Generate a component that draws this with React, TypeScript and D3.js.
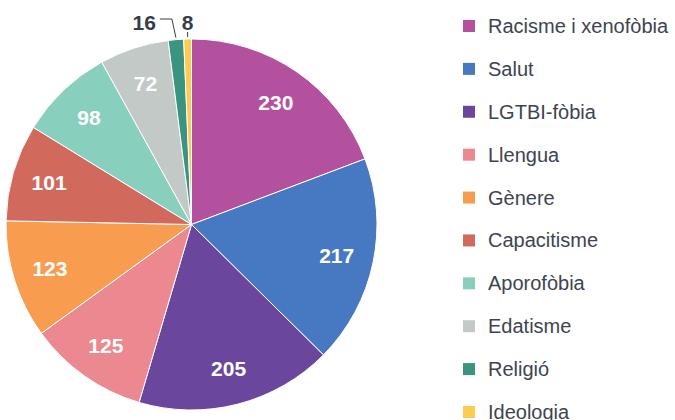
import React from "react";
import * as d3 from "d3";

const categories = [
  "Racisme i xenofòbia",
  "Salut",
  "LGTBI-fòbia",
  "Llengua",
  "Gènere",
  "Capacitisme",
  "Aporofòbia",
  "Edatisme",
  "Religió",
  "Ideologia",
];
const values = [230, 217, 205, 125, 123, 101, 98, 72, 16, 8];
const colors = [
  "#b4519f",
  "#4679c2",
  "#6a479d",
  "#ec8890",
  "#f89d50",
  "#d2695d",
  "#88cfbd",
  "#c2c9c7",
  "#3b9480",
  "#fdcb50",
];

interface Slice {
  name: string;
  value: number;
  color: string;
}

const data: Slice[] = categories.map((name, i) => ({
  name,
  value: values[i],
  color: colors[i],
}));

const App: React.FC = () => {
  const width = 675;
  const height = 420;
  const cx = 191.5;
  const cy = 224.5;
  const radius = 185.5;

  const pie = d3
    .pie<Slice>()
    .sort(null)
    .value((d) => d.value);
  const arcs = pie(data);

  const arc = d3.arc<d3.PieArcDatum<Slice>>().innerRadius(0).outerRadius(radius);
  const labelArc = d3
    .arc<d3.PieArcDatum<Slice>>()
    .innerRadius(radius * 0.8)
    .outerRadius(radius * 0.8);

  const legendY = d3
    .scalePoint<string>()
    .domain(categories)
    .range([26, 412]);

  const dark = "#363d48";

  return (
    <svg
      width={width}
      height={height}
      style={{ position: "absolute", left: 0, top: 0 }}
      fontFamily="'Liberation Sans', Arial, sans-serif"
    >
      <g transform={`translate(${cx},${cy})`}>
        {arcs.map((a, i) => (
          <path key={i} d={arc(a) ?? ""} fill={a.data.color} stroke="#fff" strokeWidth={1} />
        ))}
        {arcs.map((a, i) => {
          if (a.data.value < 50) return null;
          const [x, y] = labelArc.centroid(a);
          return (
            <text
              key={i}
              x={x}
              y={y}
              textAnchor="middle"
              dominantBaseline="central"
              fill="#fff"
              fontWeight="bold"
              fontSize={21}
            >
              {a.data.value}
            </text>
          );
        })}
        {arcs.map((a, i) => {
          if (a.data.value >= 50) return null;
          const mid = (a.startAngle + a.endAngle) / 2;
          const ex = Math.sin(mid) * radius;
          const ey = -Math.cos(mid) * radius;
          const ly = -radius - 20;
          const ty = -radius - 17;
          if (a.data.name === "Religió") {
            const kx = ex - 4;
            return (
              <g key={i}>
                <polyline
                  points={`${ex},${ey - 2} ${kx},${ly} ${kx - 12},${ly}`}
                  fill="none"
                  stroke={dark}
                  strokeWidth={1}
                />
                <text
                  x={kx - 16}
                  y={ty}
                  textAnchor="end"
                  dominantBaseline="central"
                  fill={dark}
                  fontWeight="bold"
                  fontSize={21}
                >
                  {a.data.value}
                </text>
              </g>
            );
          }
          return (
            <g key={i}>
              <line x1={ex} y1={ey - 2} x2={ex} y2={ty + 10} stroke={dark} strokeWidth={1} />
              <text
                x={ex}
                y={ty}
                textAnchor="middle"
                dominantBaseline="central"
                fill={dark}
                fontWeight="bold"
                fontSize={21}
              >
                {a.data.value}
              </text>
            </g>
          );
        })}
      </g>
      <g>
        {data.map((d) => {
          const y = legendY(d.name) ?? 0;
          return (
            <g key={d.name} transform={`translate(463,${y})`}>
              <rect x={0} y={-6} width={12} height={12} fill={d.color} />
              <text x={25} y={0} dominantBaseline="central" fill="#3d4450" fontSize={20}>
                {d.name}
              </text>
            </g>
          );
        })}
      </g>
    </svg>
  );
};

export default App;
